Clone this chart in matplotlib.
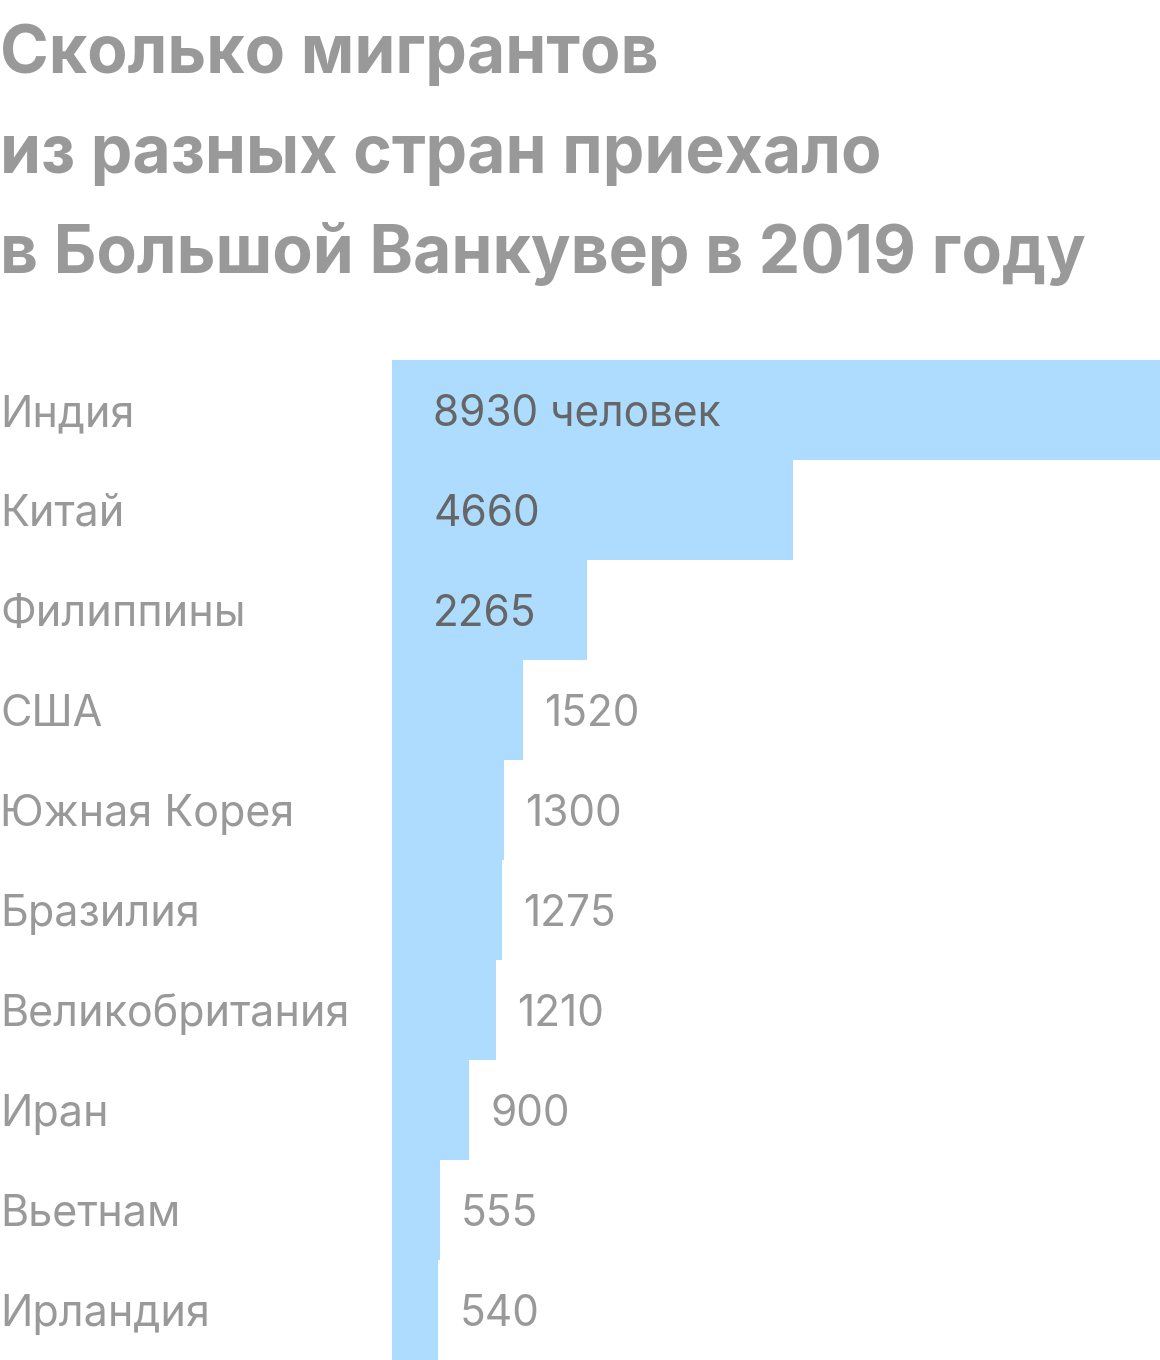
import matplotlib.pyplot as plt
import matplotlib.transforms as mtransforms

countries = ["Индия", "Китай", "Филиппины", "США", "Южная Корея",
             "Бразилия", "Великобритания", "Иран", "Вьетнам", "Ирландия"]
migrants = [8930, 4660, 2265, 1520, 1300, 1275, 1210, 900, 555, 540]
value_labels = ["8930 человек", "4660", "2265", "1520", "1300",
                "1275", "1210", "900", "555", "540"]

BAR_COLOR = "#addcff"
GRAY = "#999999"
DARK = "#666666"

plt.rcParams['font.family'] = ['Inter', 'DejaVu Sans']

W, H = 1160, 1360
fig = plt.figure(figsize=(W / 100, H / 100), dpi=100)

# bar area: x 392..1160 px, y 360..1360 px
ax = fig.add_axes([392 / W, 0, 768 / W, 1000 / H])
ax.barh(range(len(countries)), migrants, height=1.0, color=BAR_COLOR, linewidth=0)
ax.set_xlim(0, max(migrants))
ax.set_ylim(len(countries) - 0.5, -0.5)
ax.axis('off')

label_trans = mtransforms.blended_transform_factory(fig.transFigure, ax.transData)

def shift(px):
    return mtransforms.ScaledTranslation(px / 100, 0, fig.dpi_scale_trans)

for i, (name, val, txt) in enumerate(zip(countries, migrants, value_labels)):
    ax.text(0, i, name, transform=label_trans, fontsize=31, color=GRAY,
            va='center_baseline', ha='left')
    if i < 3:
        # values for the long bars sit inside the bar
        ax.text(0, i, txt, transform=ax.transData + shift(41),
                fontsize=30.5, color=DARK, va='center_baseline', ha='left')
    else:
        ax.text(val, i, txt, transform=ax.transData + shift(21),
                fontsize=30.5, color=GRAY, va='center_baseline', ha='left')

title_lines = ["Сколько мигрантов", "из разных стран приехало", "в Большой Ванкувер в 2019 году"]
for k, line in enumerate(title_lines):
    fig.text(0, 1 - (73 + 100 * k) / H, line, fontsize=47.5, fontweight='bold',
             color=GRAY, ha='left', va='baseline')

fig.savefig('out.png', dpi=100)
